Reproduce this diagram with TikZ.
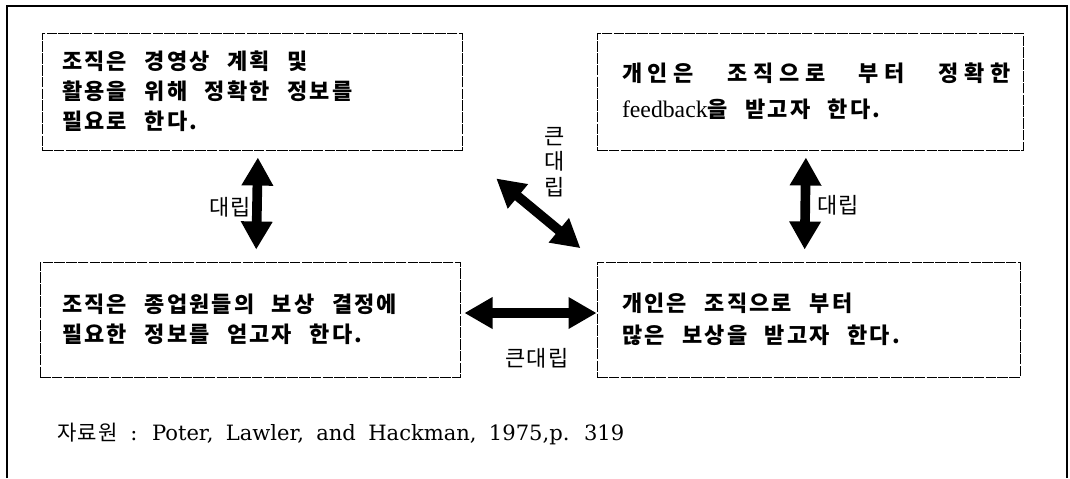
\documentclass[tikz,border=0pt]{standalone}
\usepackage{fontspec}
\setmainfont{Liberation Serif}
\newfontfamily\kr[LetterSpace=10]{Noto Sans CJK KR}
\newfontfamily\krwide[LetterSpace=26]{Noto Sans CJK KR}
\newfontfamily\krlab[LetterSpace=6]{Noto Sans CJK KR}
\newfontfamily\srcfont{DejaVu Serif}
\usetikzlibrary{arrows.meta,positioning}

\begin{document}
\begin{tikzpicture}[x=0.02cm, y=-0.02cm,
  box/.style={draw=black, line width=0.5pt, dash pattern=on 6pt off 0.7pt,
    inner ysep=0pt, text width=#1, align=left,
    font=\kr\bfseries\fontsize{12.5}{17}\selectfont,
    execute at begin node={\spaceskip=10pt plus 3pt\relax}},
  conflict/.style={line width=5.5pt,
    {Triangle[length=16pt,width=17pt]}-{Triangle[length=16pt,width=17pt]}},
  lab/.style={inner sep=1pt, font=\krlab\fontsize{12.5}{16.5}\selectfont}]

\useasboundingbox (0,0) rectangle (1070,478);

% bakkat teul
\draw[line width=0.6pt] (7,478) -- (7,6) -- (1067,6) -- (1067,478);

% ne gae ui sangja
\node[box=7.6cm, inner xsep=0.4cm, minimum height=2.34cm] (orgplan) at (252,91.5)
  {조직은 경영상 계획 및\\활용을 위해 정확한 정보를\\필요로 한다.};
\node[box=8.02cm, inner xsep=0.25cm, minimum height=2.34cm] (indfb) at (810,91.5)
  {\hspace*{0.25cm}{\krwide 개인은}\hfill{\krwide 조직으로}\hfill{\krwide 부터}\hfill{\krwide 정확한}\\[3.5pt]
   \hspace*{0.25cm}{\rmfamily\mdseries\fontsize{13.5}{17}\selectfont feedback}을 받고자 한다.};
\node[box=7.52cm, inner xsep=0.44cm, minimum height=2.30cm] (orgpay) at (250,319.5)
  {조직은 종업원들의 보상 결정에\\필요한 정보를 얻고자 한다.};
\node[box=7.46cm, inner xsep=0.5cm, minimum height=2.30cm] (indpay) at (808.5,319.5)
  {개인은 조직으로 부터\\[1.5pt]많은 보상을 받고자 한다.};

% daerip hwasalpyo
\draw[conflict, shorten <=0.14cm, shorten >=0.24cm]
  ([xshift=0.12cm]orgplan.south) -- ([xshift=0.12cm]orgpay.north);
\draw[conflict, shorten <=0.14cm, shorten >=0.24cm]
  ([xshift=-0.08cm]indfb.south) -- ([xshift=-0.08cm]indpay.north);
\draw[conflict, shorten <=0.08cm]
  ([yshift=0.13cm]orgpay.east) -- ([yshift=0.13cm]indpay.west);
\draw[conflict, shorten <=0.88cm, shorten >=0.42cm]
  (orgplan.south east) -- (indpay.north west);

% ireum
\node[lab] (lab1) at (230,207) {대립};
\node[lab] (lab2) at (838,205) {대립};
\node[lab] (lab3) at (537,358) {큰대립};
\node[lab, align=center, font=\krlab\fontsize{12.5}{14.5}\selectfont] (lab4) at (555,162) {큰\\대\\립};

% jaryo
\node[anchor=west, inner sep=0pt, font=\srcfont\fontsize{12}{14}\selectfont,
  execute at begin node={\spaceskip=7pt plus 2pt\relax}] (src) at (57,434)
  {{\krlab 자료원} : Poter, Lawler, and Hackman, 1975,p. 319};

\end{tikzpicture}
\end{document}
